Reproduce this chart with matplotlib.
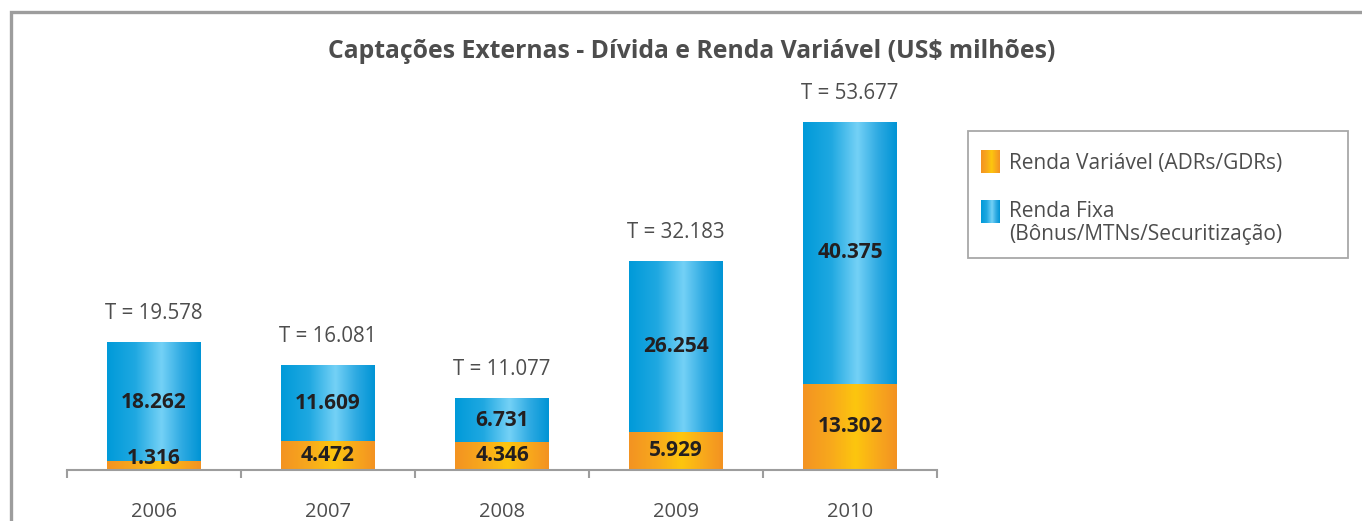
import numpy as np
import matplotlib
matplotlib.use("Agg")
import matplotlib.pyplot as plt
from matplotlib.colors import LinearSegmentedColormap

plt.rcParams['font.family'] = ['Open Sans', 'DejaVu Sans']

# data (US$ milhões)
years = ['2006', '2007', '2008', '2009', '2010']
renda_variavel = [1316, 4472, 4346, 5929, 13302]
renda_fixa = [18262, 11609, 6731, 26254, 40375]
totals = [19578, 16081, 11077, 32183, 53677]

title = 'Captações Externas - Dívida e Renda Variável (US$ milhões)'
legend_labels = ['Renda Variável (ADRs/GDRs)', 'Renda Fixa\n(Bônus/MTNs/Securitização)']

grey_txt = '#4d4d4d'
dark_txt = '#231f20'
frame_col = '#9d9d9d'

blue_cmap = LinearSegmentedColormap.from_list(
    'blue', [(0, '#009ad9'), (0.3, '#1fa8e1'), (0.58, '#74d1f6'), (0.8, '#2eaae2'), (1, '#0094d5')])
orange_cmap = LinearSegmentedColormap.from_list(
    'orange', [(0, '#f39322'), (0.3, '#f8a91c'), (0.56, '#fdc60e'), (0.8, '#f8a81c'), (1, '#f39222')])
grad = np.linspace(0, 1, 256).reshape(1, -1)


def fmt(v):
    return f"{v:,}".replace(',', '.')


def paint(ax, bars, cmap):
    for p in bars:
        x, y = p.get_xy()
        w, h = p.get_width(), p.get_height()
        ax.imshow(grad, cmap=cmap, extent=(x, x + w, y, y + h), aspect='auto',
                  interpolation='bicubic', zorder=2)
        p.set_visible(False)


fig = plt.figure(figsize=(13.62, 5.21), dpi=100)
W, H = 1362, 521

ax = fig.add_axes([67 / W, (H - 470) / H, 870 / W, 388.8 / H])
x = np.arange(len(years))
bw = 0.537
b1 = ax.bar(x, renda_variavel, bw)
b2 = ax.bar(x, renda_fixa, bw, bottom=renda_variavel)
paint(ax, b1, orange_cmap)
paint(ax, b2, blue_cmap)
ax.set_xlim(-0.5, len(years) - 0.5)
ax.set_ylim(0, 60000)

for i in range(len(years)):
    rv, rf, t = renda_variavel[i], renda_fixa[i], totals[i]
    ax.text(x[i], max(rv / 2, 1700), fmt(rv), ha='center', va='center',
            fontsize=15, fontweight='bold', color=dark_txt, zorder=3)
    ax.text(x[i], rv + rf / 2, fmt(rf), ha='center', va='center',
            fontsize=15, fontweight='bold', color=dark_txt, zorder=3)
    ax.annotate(f"T = {fmt(t)}", (x[i], rv + rf), xytext=(0, 21), textcoords='offset points',
                ha='center', va='center', fontsize=14.8, color=grey_txt)

for s in ['top', 'right', 'left']:
    ax.spines[s].set_visible(False)
ax.spines['bottom'].set_color(frame_col)
ax.spines['bottom'].set_linewidth(1.5)
ax.set_yticks([])
ax.set_xticks(x)
ax.set_xticklabels(years, fontsize=14.5, color=grey_txt)
ax.tick_params(axis='x', which='major', length=0, pad=23)
ax.set_xticks(np.arange(-0.5, len(years)), minor=True)
ax.tick_params(axis='x', which='minor', length=6, width=1.5, color=frame_col, direction='out')

# overlay in pixel coordinates: frame, title, legend
ov = fig.add_axes([0, 0, 1, 1])
ov.set_xlim(0, W)
ov.set_ylim(H, 0)
ov.axis('off')
ov.plot([11, 11, W], [H, 12, 12], color=frame_col, lw=2.4, solid_joinstyle='miter')
ov.text(692, 51, title, ha='center', va='center', fontsize=17.8, fontweight='bold', color=grey_txt)

ov.add_patch(plt.Rectangle((968, 131), 380, 127, fill=False, ec='#a8a8a8', lw=1.3))
ov.imshow(grad, cmap=orange_cmap, extent=(981, 1000, 173, 150), aspect='auto', zorder=2)
ov.imshow(grad, cmap=blue_cmap, extent=(981, 1000, 223, 200), aspect='auto', zorder=2)
ov.set_xlim(0, W)
ov.set_ylim(H, 0)
ov.text(1009, 164, legend_labels[0], ha='left', va='center', fontsize=15, color=grey_txt)
ov.text(1009, 223, legend_labels[1], ha='left', va='center', fontsize=15, color=grey_txt,
        linespacing=1.1)

fig.savefig('out.png', dpi=100)
